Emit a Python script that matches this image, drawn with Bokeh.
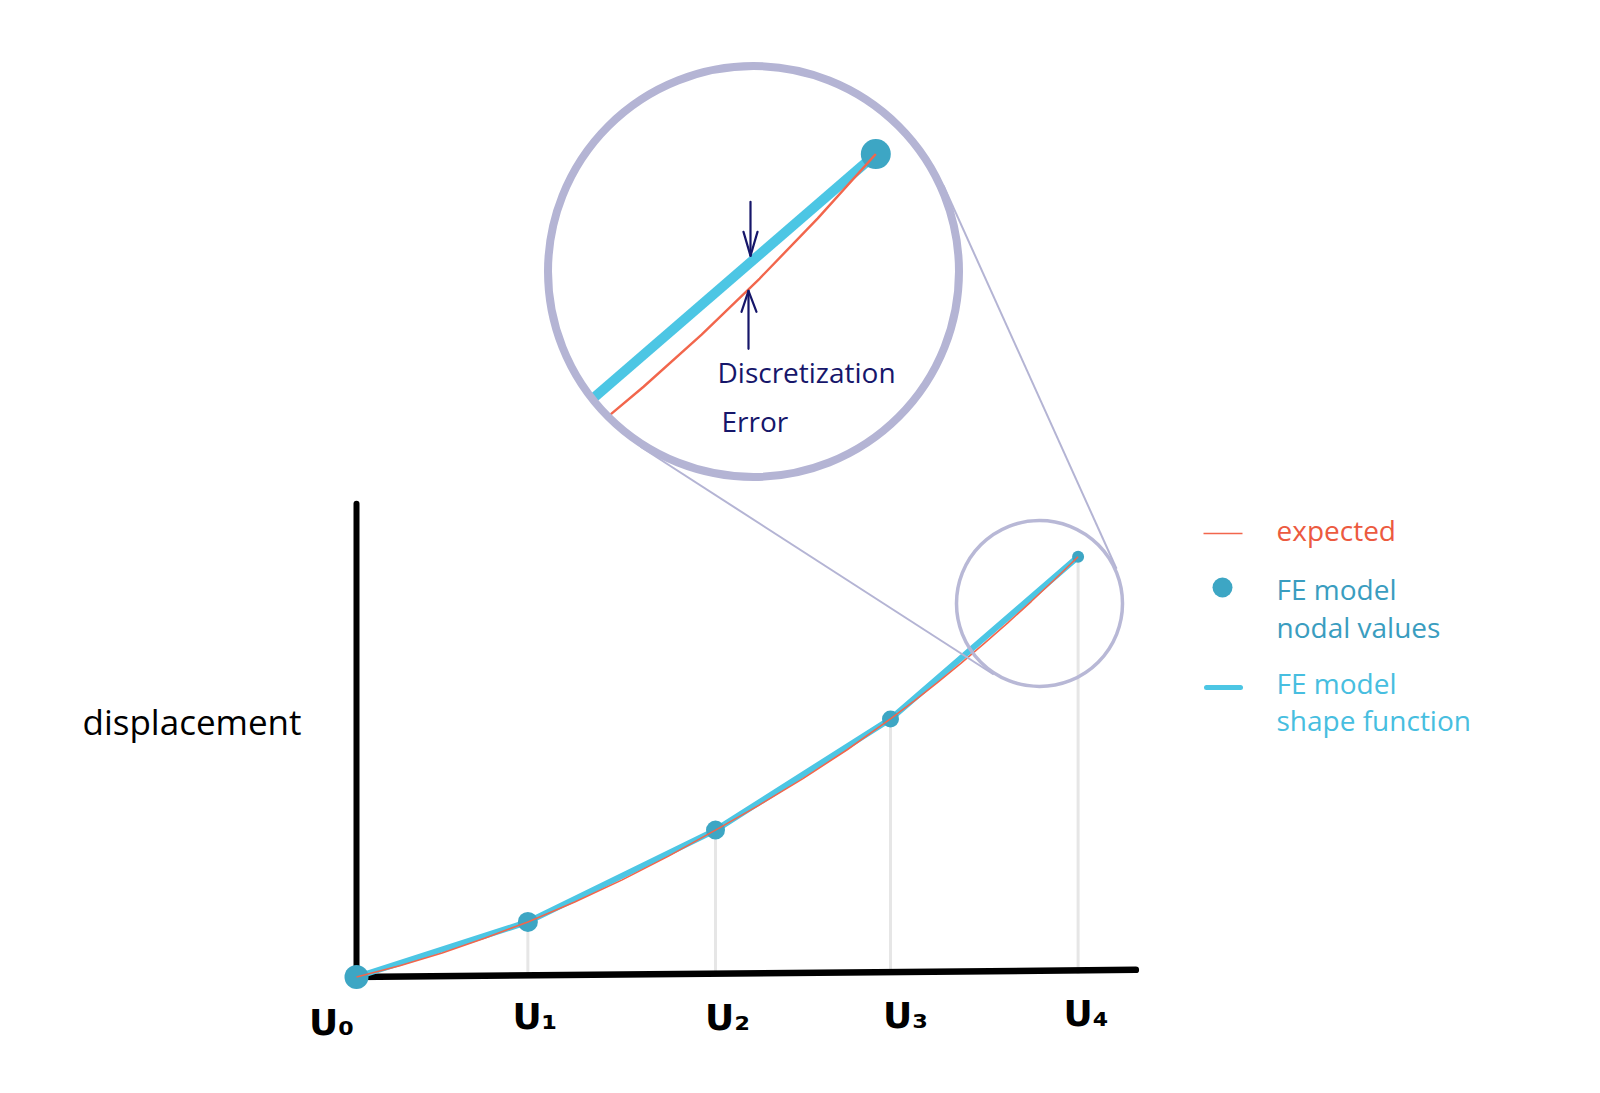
import numpy as np
from bokeh.plotting import figure
from bokeh.models import Range1d
from bokeh.core.properties import value
from bokeh.embed import file_html
from bokeh.resources import INLINE

# ---------------- data ----------------
node_positions = [0.0, 0.95, 1.99, 2.96, 4.0]
nodal_values = [0.0, 0.54, 1.44, 2.53, 4.12]
tick_labels = ["U₀", "U₁", "U₂", "U₃", "U₄"]

expected_positions = [0.0, 0.24, 0.475, 0.71, 0.95, 1.21, 1.47, 1.73, 1.99,
                      2.23, 2.475, 2.72, 2.96, 3.09, 3.22, 3.35, 3.48, 3.61,
                      3.74, 3.87, 4.0]
expected_values = [0.0, 0.110, 0.236, 0.380, 0.54, 0.735, 0.95, 1.185, 1.44,
                   1.683, 1.945, 2.228, 2.53, 2.705, 2.886, 3.074, 3.270, 3.472,
                   3.681, 3.897, 4.12]

y_axis_label = "displacement"
legend_expected = ["expected"]
legend_nodal = ["FE model", "nodal values"]
legend_shape = ["FE model", "shape function"]
callout_text = ["Discretization", "Error"]

# ---------------- styles / layout ----------------
RED = "#F2664C"
RED_TXT = "#EC5A3F"
CYAN = "#4CC6E4"
CYAN_TXT = "#47BEE0"
DOT = "#3DA6C4"
DOT_TXT = "#3A9DC0"
LAV = "#B4B4D4"
NAVY = "#16166A"
GREY = "#E6E6E6"

W, H = 1584, 1077
MARGIN = 0                     # bokeh's page template has no body margin
OX, OY = 356.0, 976.5          # page pixel of data origin
SX, SY = 180.4, 102.0          # pixels per data unit

node_marker_sizes = [24, 20, 19, 17, 12]
tick_dx_px = [-25, 7, 12, 15, 8]
tick_base_px = [1022, 1016, 1017, 1015, 1013]

x_axis_end, x_axis_tilt, y_axis_top = 4.32, 0.07, 4.64

SMALL_C, SMALL_R = (1039.0, 603.0), 83.0
BIG_C, BIG_R = (753.0, 271.0), 205.5
ZOOM_FOCUS = (1028.2, 603.7)
MAG = BIG_R / SMALL_R
ERR_GAIN = 2.3


def to_data(X, Y):
    return (np.asarray(X, float) - OX) / SX, (OY - np.asarray(Y, float)) / SY


def to_px(x, y):
    return OX + np.asarray(x, float) * SX, OY - np.asarray(y, float) * SY


p = figure(width=W, height=H,
           x_range=Range1d((MARGIN - OX) / SX, (MARGIN + W - OX) / SX),
           y_range=Range1d((OY - (MARGIN + H)) / SY, (OY - MARGIN) / SY),
           x_axis_type=None, y_axis_type=None, toolbar_location=None,
           output_backend="svg", min_border=0, outline_line_color=None)
p.background_fill_color = "white"
p.border_fill_color = "white"

# ---------------- main chart ----------------
p.segment(x0=node_positions[1:], y0=[0.03] * 4, x1=node_positions[1:],
          y1=nodal_values[1:], line_color=GREY, line_width=3)
p.line([0, 0], [0, y_axis_top], line_color="black", line_width=6, line_cap="round")
p.line([-0.02, x_axis_end], [0, x_axis_tilt], line_color="black", line_width=6.5,
       line_cap="round")

p.line(node_positions, nodal_values, line_color=CYAN, line_width=6, line_join="round")
p.scatter(node_positions, nodal_values, size=node_marker_sizes, fill_color=DOT,
          line_color=None)
p.line(expected_positions, expected_values, line_color=RED, line_width=1.6)

lx = [xp + d / SX for xp, d in zip(node_positions, tick_dx_px)]
ly = list(to_data([0] * 5, tick_base_px)[1])
p.text(x=lx, y=ly, text=tick_labels, text_font=value("DejaVu Sans"),
       text_font_style="bold", text_font_size="36px", text_color="black",
       text_align="center", text_baseline="alphabetic")

ax, ay = to_data([82], [721])
p.text(x=list(ax), y=list(ay), text=[y_axis_label], text_font=value("Open Sans"),
       text_font_size="35px", text_color="black", text_baseline="alphabetic")

# ---------------- zoom lens ----------------
def ext_tangents(c1, r1, c2, r2):
    c1 = np.array(c1); c2 = np.array(c2)
    d = c2 - c1
    L = np.hypot(*d)
    u = d / L
    v = np.array([-u[1], u[0]])
    a = (r1 - r2) / L
    b = np.sqrt(1 - a * a)
    out = []
    for s in (1, -1):
        n = a * u + s * b * v
        out.append((c1 + r1 * n, c2 + r2 * n))
    return out


for P1, P2 in ext_tangents(BIG_C, BIG_R + 3, SMALL_C, SMALL_R + 1.5):
    xs, ys = to_data([P1[0], P2[0]], [P1[1], P2[1]])
    p.line(list(xs), list(ys), line_color=LAV, line_width=2)

scx, scy = to_data([SMALL_C[0]], [SMALL_C[1]])
p.scatter(list(scx), list(scy), size=2 * SMALL_R, marker="circle", fill_color=None,
          line_color=LAV, line_width=3.5, line_alpha=0.95)

bcx, bcy = to_data([BIG_C[0]], [BIG_C[1]])
p.scatter(list(bcx), list(bcy), size=2 * BIG_R, marker="circle", fill_color="white",
          line_color=None)


def magnify(X, Y):
    X = np.asarray(X); Y = np.asarray(Y)
    return BIG_C[0] + MAG * (X - ZOOM_FOCUS[0]), BIG_C[1] + MAG * (Y - ZOOM_FOCUS[1])


def clip_to_circle(X, Y, c, R):
    cx, cy = c
    pts = list(zip(X, Y))
    inside = [(x - cx) ** 2 + (y - cy) ** 2 <= R * R for x, y in pts]
    ox, oy = [], []
    for i in range(len(pts)):
        if i > 0 and inside[i] != inside[i - 1]:
            x0, y0 = pts[i - 1]; x1, y1 = pts[i]
            dx, dy = x1 - x0, y1 - y0
            fx, fy = x0 - cx, y0 - cy
            a = dx * dx + dy * dy; b = 2 * (fx * dx + fy * dy); cc = fx * fx + fy * fy - R * R
            disc = np.sqrt(max(b * b - 4 * a * cc, 0))
            for t in ((-b - disc) / (2 * a), (-b + disc) / (2 * a)):
                if 0 <= t <= 1:
                    ox.append(x0 + t * dx); oy.append(y0 + t * dy)
                    break
        if inside[i]:
            ox.append(pts[i][0]); oy.append(pts[i][1])
    return np.array(ox), np.array(oy)


# FE shape function in the inset
fX, fY = to_px(node_positions, nodal_values)
fX, fY = magnify(fX, fY)
bX, bY = clip_to_circle(fX, fY, BIG_C, BIG_R)
bx, by = to_data(bX, bY)
p.line(list(bx), list(by), line_color=CYAN, line_width=10)

# nodal dot in the inset
dX, dY = magnify(*to_px([node_positions[-1]], [nodal_values[-1]]))
dx_, dy_ = to_data(dX, dY)
p.scatter(list(dx_), list(dy_), size=30, fill_color=DOT, line_color=None)

# expected curve in the inset (error exaggerated for visibility)
fe_at_exp = np.interp(expected_positions, node_positions, nodal_values)
exag = fe_at_exp + ERR_GAIN * (np.asarray(expected_values) - fe_at_exp)
eX, eY = magnify(*to_px(expected_positions, exag))
rX, rY = clip_to_circle(eX, eY, BIG_C, BIG_R)
rx, ry = to_data(rX, rY)
p.line(list(rx), list(ry), line_color=RED, line_width=2.4)

# big circle outline on top
p.scatter(list(bcx), list(bcy), size=2 * BIG_R, marker="circle", fill_color=None,
          line_color=LAV, line_width=8)

# arrows
AX = 750.0
yb = float(np.interp(AX, bX, bY))
yr = float(np.interp(AX - 2, rX, rY))
tip1 = yb - 6.5
tip2 = yr + 1.5
arrows_px = [
    ([AX, AX], [tip1 - 54, tip1]),
    ([AX - 7, AX, AX + 7], [tip1 - 24, tip1, tip1 - 24]),
    ([AX - 2, AX - 2], [tip2 + 58, tip2]),
    ([AX - 9, AX - 2, AX + 6], [tip2 + 21, tip2, tip2 + 21]),
]
axs, ays = [], []
for X, Y in arrows_px:
    xx, yy = to_data(X, Y)
    axs.append(list(xx)); ays.append(list(yy))
p.multi_line(axs, ays, line_color=NAVY, line_width=2.2, line_join="round",
             line_cap="round")

tx, ty = to_data([717, 721], [371, 420])
p.text(x=list(tx), y=list(ty), text=callout_text, text_font=value("Open Sans"),
       text_font_size="28px", text_color=NAVY, text_baseline="alphabetic")

# ---------------- legend ----------------
sx0, sy0 = to_data([1203, 1242], [533, 533])
p.line(list(sx0), list(sy0), line_color=RED, line_width=1.6)
mx, my = to_data([1222], [587])
p.scatter(list(mx), list(my), size=20, fill_color=DOT, line_color=None)
cx0, cy0 = to_data([1206, 1240], [687, 687])
p.line(list(cx0), list(cy0), line_color=CYAN, line_width=5, line_cap="round")

for lines, ypx, col in ((legend_expected, [529], RED_TXT),
                        (legend_nodal, [588, 626], DOT_TXT),
                        (legend_shape, [682, 719], CYAN_TXT)):
    gx, gy = to_data([1276] * len(lines), ypx)
    p.text(x=list(gx), y=list(gy), text=lines, text_font=value("Open Sans"),
           text_font_size="28px", text_color=col, text_baseline="alphabetic")

open("out.html", "w").write(file_html(p, INLINE, title="FE discretization error"))
